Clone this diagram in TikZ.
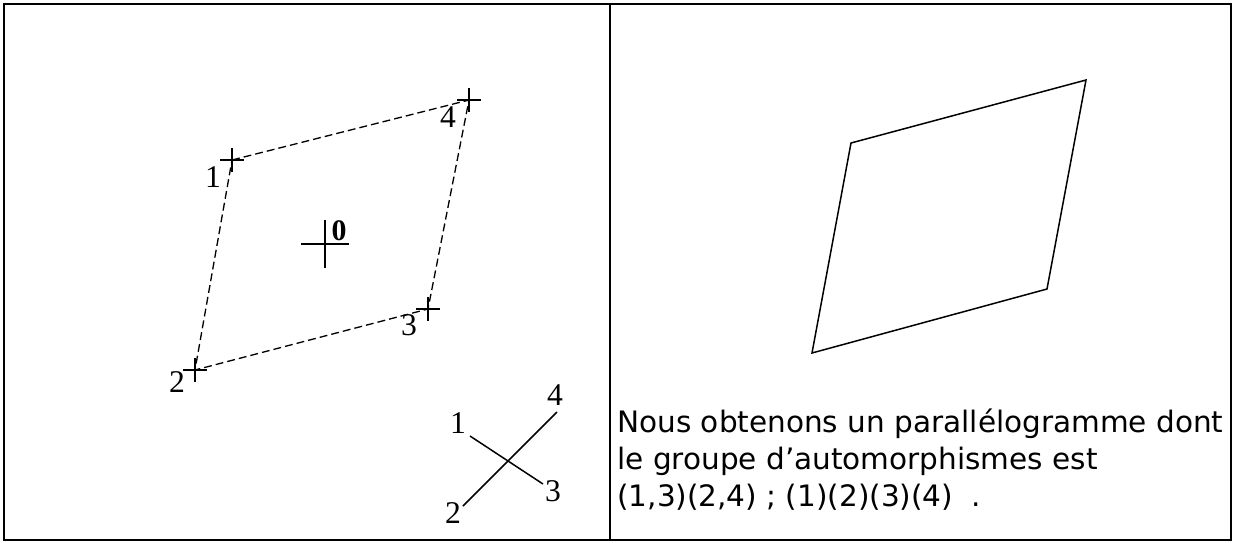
\documentclass[tikz,border=0pt]{standalone}
\usepackage{fontspec}
\setmainfont{Liberation Serif}
\newfontfamily\comicfont{DejaVu Sans}
\usetikzlibrary{positioning}
\tikzset{
  cadre/.style={line width=1.3pt},
  pointille/.style={dash pattern=on 4.5pt off 2.3pt,line width=0.75pt},
  plein/.style={line width=0.85pt},
  etiq/.style={font=\fontsize{18}{18}\selectfont,inner sep=0pt},
  texte/.style={font=\comicfont\fontsize{16.8}{20}\selectfont,anchor=base west,inner sep=0pt},
  croix/.pic={\draw[line width=0.8pt] (-12,0) -- (12,0) (0,-12) -- (0,12);},
  grandecroix/.pic={\draw[line width=0.8pt] (-24,0) -- (24,0) (0,-24) -- (0,24);},
}

\begin{document}
\begin{tikzpicture}[x=0.02cm,y=-0.02cm]
  \useasboundingbox (0,0) rectangle (1234,542);
  % tableau
  \draw[cadre] (4,4) rectangle (1231,540);
  \coordinate (haut) at (610,4);
  \coordinate (bas) at (610,540);
  \draw[cadre] (haut) -- (bas);

  % case de gauche
  \coordinate (p1) at (232,160);
  \coordinate (p2) at (195,370);
  \coordinate (p3) at (428,309);
  \coordinate (p4) at (469,100);
  \coordinate (o) at (325,244);
  \draw[pointille] (p1) -- (p4) -- (p3) -- (p2) -- cycle;
  \pic at (p1) {croix};
  \pic at (p2) {croix};
  \pic at (p3) {croix};
  \pic at (p4) {croix};
  \pic at (o) {grandecroix};
  \node[etiq] (l1) at (213,177) {1};
  \node[etiq] (l2) at (177,382) {2};
  \node[etiq] (l3) at (409,325) {3};
  \node[etiq] (l4) at (448,117) {4};
  \node[etiq,font=\bfseries\fontsize{17}{17}\selectfont] (l0) at (339,231) {0};

  \coordinate (a1) at (470,436);
  \coordinate (a2) at (463,506);
  \coordinate (a3) at (543,484);
  \coordinate (a4) at (557,412);
  \draw[plein] (a1) -- (a3);
  \draw[plein] (a2) -- (a4);
  \node[etiq] (m1) at (458,423) {1};
  \node[etiq] (m2) at (453,513) {2};
  \node[etiq] (m3) at (553,491) {3};
  \node[etiq] (m4) at (555,395) {4};

  % case de droite
  \coordinate (q1) at (851,143);
  \coordinate (q2) at (812,353);
  \coordinate (q3) at (1047,289);
  \coordinate (q4) at (1086,80);
  \draw[plein] (q1) -- (q4) -- (q3) -- (q2) -- cycle;
  \node[texte] (t1) at (617,432) {Nous obtenons un parallélogramme dont};
  \node[texte] (t2) at (617,469) {le groupe d’automorphismes est};
  \node[texte] (t3) at (617,506) {(1,3)(2,4) ; (1)(2)(3)(4)~~.};
\end{tikzpicture}
\end{document}
